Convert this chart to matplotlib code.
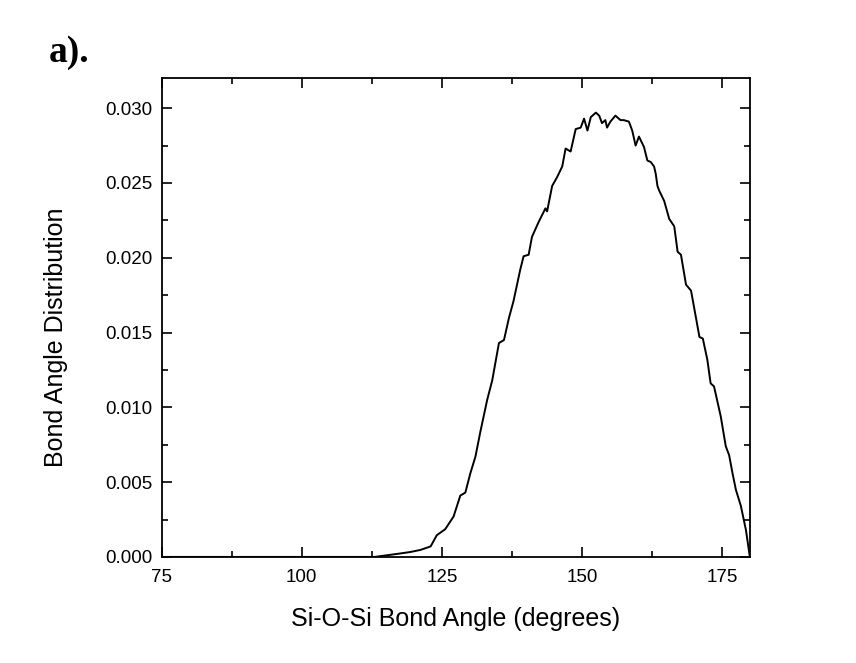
import numpy as np
import matplotlib.pyplot as plt
from matplotlib.ticker import MultipleLocator

# Si-O-Si bond angle distribution
angle = [75, 100, 113, 115, 117, 119.4, 121.2, 123, 124.1, 125.6, 127.1, 128.3, 129.2,
         130.1, 131, 131.9, 133.1, 134, 135.2, 136.1, 137, 137.8, 139, 139.6, 140.5,
         141.1, 142.3, 143.5, 143.8, 144.7, 145.6, 146.5, 147.1, 148, 148.9, 149.8,
         150.4, 151, 151.6, 152.5, 153.1, 153.6, 154.2, 154.5, 155.1, 156, 156.9,
         157.5, 158.4, 159, 159.6, 160.2, 161.1, 161.7, 162.3, 162.9, 163.2, 163.5,
         163.8, 164.7, 165.6, 166.5, 167.1, 167.7, 168.6, 169.5, 171, 171.6, 172.4,
         173, 173.6, 174.8, 175.7, 176.3, 176.9, 177.5, 178.4, 179.3, 180]
dist = [0.0, 0.0, 0.0, 0.0001, 0.0002, 0.00033, 0.00047, 0.0007, 0.00145, 0.00185,
        0.0027, 0.0041, 0.0043, 0.0056, 0.0067, 0.0084, 0.0105, 0.0118, 0.0143,
        0.0145, 0.0160, 0.0171, 0.0192, 0.0201, 0.0202, 0.0214, 0.0224, 0.0233,
        0.0231, 0.0248, 0.0254, 0.0261, 0.0273, 0.0271, 0.0286, 0.0287, 0.0293,
        0.0285, 0.0294, 0.0297, 0.0295, 0.0290, 0.0292, 0.0287, 0.0291, 0.0295,
        0.0292, 0.0292, 0.0291, 0.0285, 0.0275, 0.0281, 0.0274, 0.0265, 0.0264,
        0.0261, 0.0256, 0.0248, 0.0245, 0.0238, 0.0226, 0.0221, 0.0204, 0.0202,
        0.0182, 0.0178, 0.0147, 0.0146, 0.0132, 0.0116, 0.0114, 0.0094, 0.0074,
        0.0068, 0.0056, 0.0045, 0.0034, 0.0018, 0.0]

plt.rcParams['font.family'] = ['Liberation Sans', 'DejaVu Sans']

fig = plt.figure(figsize=(8.56, 6.63), dpi=100)
ax = fig.add_axes([0.189, 0.160, 0.687, 0.722])

ax.plot(angle, dist, color='black', lw=1.4)

ax.set_xlim(75, 180)
ax.set_ylim(0, 0.032)
ax.xaxis.set_major_locator(MultipleLocator(25))
ax.xaxis.set_minor_locator(MultipleLocator(12.5))
ax.yaxis.set_major_locator(MultipleLocator(0.005))
ax.yaxis.set_minor_locator(MultipleLocator(0.0025))
ax.yaxis.set_major_formatter(plt.FormatStrFormatter('%.3f'))
ax.tick_params(which='both', direction='in', top=True, right=True, width=1.2,
               labelsize=13.5)
ax.tick_params(axis='x', pad=9)
ax.tick_params(axis='y', pad=7)
ax.tick_params(which='major', length=7)
ax.tick_params(which='minor', length=4)
for s in ax.spines.values():
    s.set_linewidth(1.3)

ax.set_xlabel('Si-O-Si Bond Angle (degrees)', fontsize=18, labelpad=15)
ax.set_ylabel('Bond Angle Distribution', fontsize=18)
# label sits a little below the axes centre in the original
ax.yaxis.set_label_coords(-0.160, 0.458)

fig.text(0.057, 0.906, 'a).', fontsize=27, fontweight='bold',
         family=['Liberation Serif', 'DejaVu Serif'])

fig.savefig('out.png', dpi=100, facecolor='white')
